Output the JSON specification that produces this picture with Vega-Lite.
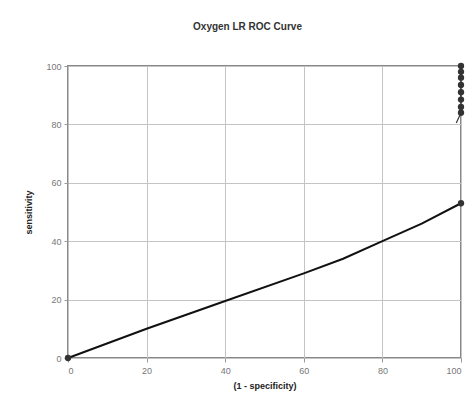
{
  "$schema": "https://vega.github.io/schema/vega-lite/v6.json",
  "autosize": "none",
  "width": 393,
  "height": 292,
  "padding": {"left": 68, "top": 66, "right": 11, "bottom": 49},
  "background": "white",
  "title": {"text": "Oxygen LR ROC Curve", "fontSize": 10, "font": "Liberation Sans", "fontWeight": "bold", "color": "#333", "offset": 30, "dx": -17},
  "config": {
    "view": {"stroke": "#888", "strokeWidth": 2},
    "axis": {"labelFont": "Liberation Sans", "labelFontSize": 9, "labelColor": "#777", "titleFont": "Liberation Sans", "titleFontSize": 9, "titleFontWeight": "bold", "titleColor": "#222", "gridColor": "#c4c4c4", "gridWidth": 1, "domain": false, "tickColor": "#999", "tickSize": 4}
  },
  "datasets": {
    "curve": [
      {"x": 0, "y": 0}, {"x": 20, "y": 10}, {"x": 40, "y": 19.5}, {"x": 60, "y": 29}, {"x": 70, "y": 34}, {"x": 80, "y": 40}, {"x": 90, "y": 46}, {"x": 100, "y": 53}
    ],
    "top": [
      {"x": 98.8, "y": 80.5}, {"x": 100, "y": 84}, {"x": 100, "y": 86}, {"x": 100, "y": 88.5}, {"x": 100, "y": 91}, {"x": 100, "y": 93.5}, {"x": 100, "y": 96}, {"x": 100, "y": 98}, {"x": 100, "y": 100}
    ]
  },
  "layer": [
    {
      "data": {"name": "curve"},
      "mark": {"type": "line", "color": "#111", "strokeWidth": 2},
      "encoding": {
        "x": {"field": "x", "type": "quantitative", "scale": {"domain": [0, 100]}, "axis": {"values": [0, 20, 40, 60, 80, 100], "title": "(1  -  specificity)", "titlePadding": 6, "labelPadding": 4}},
        "y": {"field": "y", "type": "quantitative", "scale": {"domain": [0, 100]}, "axis": {"values": [0, 20, 40, 60, 80, 100], "title": "sensitivity", "titlePadding": 12, "labelPadding": 3}}
      }
    },
    {
      "data": {"name": "curve"},
      "transform": [{"filter": "datum.x == 0 || datum.x == 100"}],
      "mark": {"type": "point", "filled": true, "color": "#333", "size": 40, "opacity": 1},
      "encoding": {
        "x": {"field": "x", "type": "quantitative"},
        "y": {"field": "y", "type": "quantitative"}
      }
    },
    {
      "data": {"name": "top"},
      "mark": {"type": "line", "color": "#333", "strokeWidth": 1.2},
      "encoding": {
        "x": {"field": "x", "type": "quantitative"},
        "y": {"field": "y", "type": "quantitative"}
      }
    },
    {
      "data": {"name": "top"},
      "transform": [{"filter": "datum.x == 100"}],
      "mark": {"type": "point", "filled": true, "color": "#333", "size": 40, "opacity": 1},
      "encoding": {
        "x": {"field": "x", "type": "quantitative"},
        "y": {"field": "y", "type": "quantitative"}
      }
    }
  ]
}
